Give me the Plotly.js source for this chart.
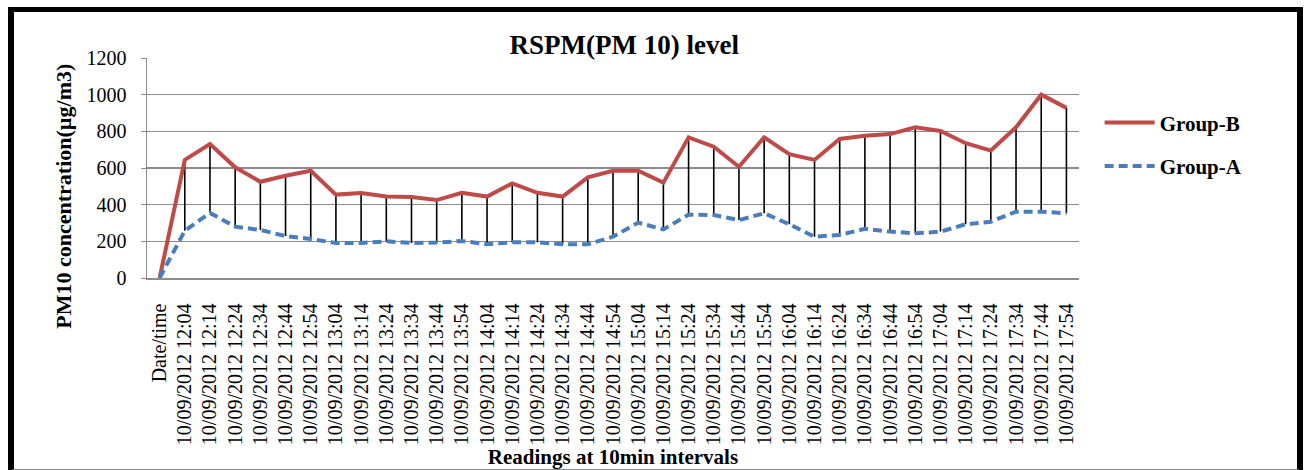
<!DOCTYPE html>
<html>
<head>
<meta charset="utf-8">
<script src="https://cdn.plot.ly/plotly-3.0.1.min.js"></script>
<style>
  html, body { margin: 0; padding: 0; background: #fff; }
  #wrap { position: relative; width: 1306px; height: 470px; }
  #chart { width: 1306px; height: 470px; }
  #frame {
    position: absolute; left: 8px; top: 7px; width: 1283px; height: 457px;
    border-left: 6px solid #000; border-top: 5px solid #000;
    border-right: 6px solid #000; border-bottom: 2px solid #888;
    pointer-events: none;
  }
</style>
</head>
<body>
<div id="wrap">
  <div id="chart"></div>
  <div id="frame"></div>
</div>
<script>
const categories = [
  "Date/time",
  "10/09/2012 12:04", "10/09/2012 12:14", "10/09/2012 12:24", "10/09/2012 12:34",
  "10/09/2012 12:44", "10/09/2012 12:54", "10/09/2012 13:04", "10/09/2012 13:14",
  "10/09/2012 13:24", "10/09/2012 13:34", "10/09/2012 13:44", "10/09/2012 13:54",
  "10/09/2012 14:04", "10/09/2012 14:14", "10/09/2012 14:24", "10/09/2012 14:34",
  "10/09/2012 14:44", "10/09/2012 14:54", "10/09/2012 15:04", "10/09/2012 15:14",
  "10/09/2012 15:24", "10/09/2012 15:34", "10/09/2012 15:44", "10/09/2012 15:54",
  "10/09/2012 16:04", "10/09/2012 16:14", "10/09/2012 16:24", "10/09/2012 16:34",
  "10/09/2012 16:44", "10/09/2012 16:54", "10/09/2012 17:04", "10/09/2012 17:14",
  "10/09/2012 17:24", "10/09/2012 17:34", "10/09/2012 17:44", "10/09/2012 17:54"
];
const groupB = [0, 644, 731, 604, 525, 558, 585, 455, 464, 444, 442, 425, 465, 444, 516, 465,
  444, 549, 585, 585, 520, 767, 716, 607, 767, 675, 644, 758, 776, 785, 822, 802, 735, 695,
  822, 1000, 928];
const groupA = [0, 258, 355, 280, 262, 229, 213, 191, 191, 200, 191, 193, 202, 184, 195, 195,
  184, 184, 225, 302, 265, 345, 344, 316, 353, 293, 225, 235, 268, 253, 244, 253, 293, 307,
  362, 362, 353];
const yTicks = [0, 200, 400, 600, 800, 1000, 1200];

const serif = "Liberation Serif, Times New Roman, serif";

// high-low connector lines built from the two series
const dx = [], dy = [];
categories.forEach((c, i) => { dx.push(c, c, null); dy.push(groupB[i], groupA[i], null); });

const traces = [
  { x: dx, y: dy, mode: 'lines', line: { color: '#000', width: 1.6 },
    showlegend: false, hoverinfo: 'skip', cliponaxis: false, legendgroup: 'z' },
  { x: categories, y: groupB, name: 'Group-B', mode: 'lines', legendgroup: 'b',
    line: { color: '#be4b48', width: 4 } },
  { x: categories, y: groupA, name: 'Group-A', mode: 'lines', legendgroup: 'a',
    line: { color: '#4a7ebb', width: 4, dash: '9px,5px' } }
];

const layout = {
  width: 1306, height: 470,
  margin: { l: 147, r: 227, t: 58, b: 192 },
  paper_bgcolor: '#fff', plot_bgcolor: '#fff',
  showlegend: true,
  title: { text: '<b>RSPM(PM 10) level</b>', x: 0.478, xanchor: 'center',
    y: 0.905, yanchor: 'middle', yref: 'container',
    font: { family: serif, size: 27, color: '#000' } },
  xaxis: {
    type: 'category', range: [-0.5, 36.5], categoryorder: 'array', categoryarray: categories,
    tickangle: -90, tickfont: { family: serif, size: 20, color: '#000' },
    ticks: '', ticklabelstandoff: 16, showgrid: false,
    showline: true, linecolor: '#8c8c8c', linewidth: 1.5, zeroline: false,
    title: { text: '<b>Readings at 10min intervals</b>', standoff: 2,
      font: { family: serif, size: 21, color: '#000' } },
    automargin: false
  },
  yaxis: {
    range: [0, 1200], tickvals: yTicks, ticktext: yTicks.map(String),
    tickfont: { family: serif, size: 20, color: '#000' },
    ticks: 'outside', ticklen: 5, tickcolor: '#8c8c8c', ticklabelstandoff: 10,
    showgrid: true, gridcolor: '#8c8c8c', gridwidth: 1.5,
    showline: true, linecolor: '#8c8c8c', linewidth: 1.5, zeroline: false,
    automargin: false
  },
  legend: {
    xref: 'container', yref: 'container', x: 0.842, y: 0.782, xanchor: 'left', yanchor: 'top',
    traceorder: 'grouped', itemwidth: 50, tracegroupgap: 13,
    font: { family: serif, size: 21, color: '#000', weight: 'bold' }, bgcolor: 'rgba(0,0,0,0)'
  },
  annotations: [{
    text: '<b>PM10 concentration(µg/m3)</b>', textangle: -90, showarrow: false,
    xref: 'paper', yref: 'paper', x: -0.09, y: 0.37, xanchor: 'center', yanchor: 'middle',
    font: { family: serif, size: 22, color: '#000' }
  }]
};

Plotly.newPlot('chart', traces, layout, { displayModeBar: false, staticPlot: true });
</script>
</body>
</html>
